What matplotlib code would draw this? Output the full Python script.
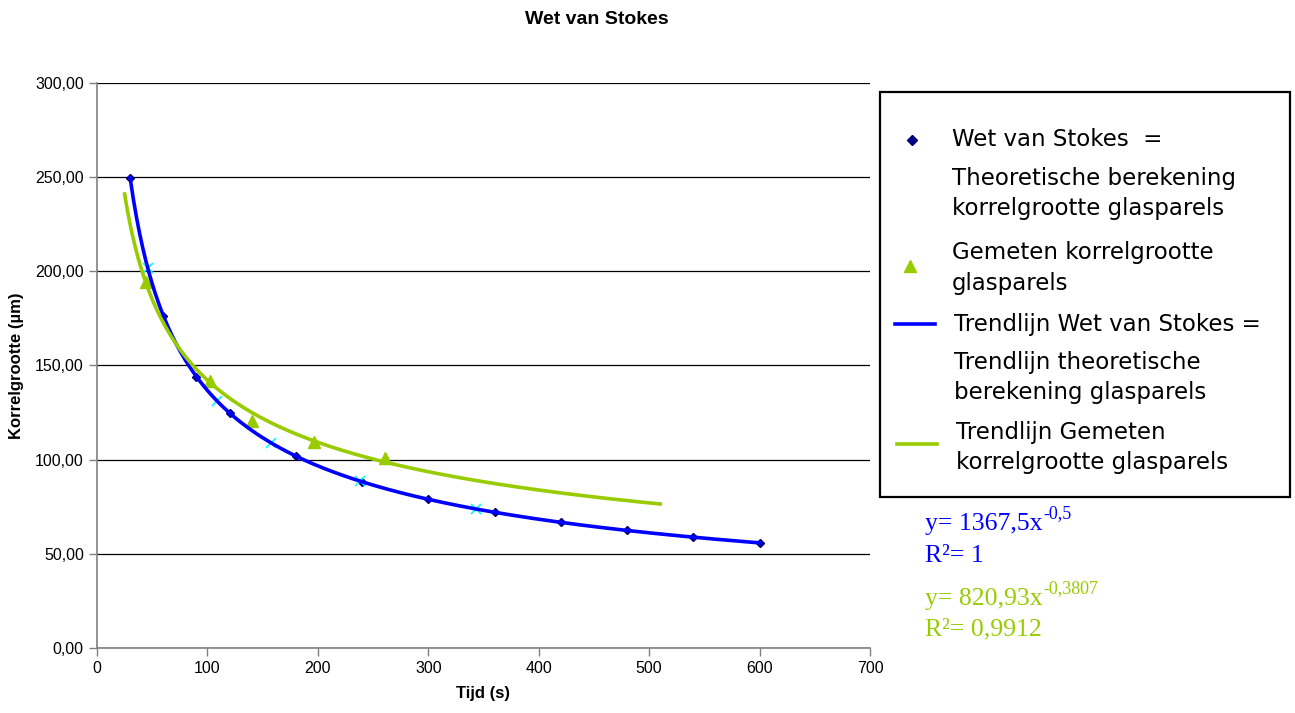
import matplotlib
matplotlib.use("Agg")
import matplotlib.pyplot as plt
import numpy as np
from matplotlib.lines import Line2D
from matplotlib.patches import Rectangle
from matplotlib.ticker import FuncFormatter

plt.rcParams["font.family"] = ["Liberation Sans", "DejaVu Sans"]

# theoretical grain size (Stokes' law) per settling time
stokes_time = [30, 60, 90, 120, 180, 240, 300, 360, 420, 480, 540, 600]
stokes_size = [249.7, 176.5, 144.1, 124.8, 101.9, 88.3, 79.0, 72.1, 66.7, 62.4, 58.8, 55.8]

# measured glass bead sizes
measured_time = [44.5, 102, 140, 196.5, 261]
measured_size = [194.4, 141.8, 120.5, 109.4, 100.9]

# theoretical size at the measured times
check_time = [46, 109, 158, 238, 343]
check_size = [202.0, 131.0, 109.0, 88.6, 74.0]

# power trendlines y = a * x^b
stokes_coef, stokes_exp, stokes_r2 = 1367.5, -0.5, "1"
stokes_range = (30, 600)
measured_coef, measured_exp, measured_r2 = 820.93, -0.3807, "0,9912"
measured_range = (25, 510)

x_ticks = [0, 100, 200, 300, 400, 500, 600, 700]
y_ticks = [0, 50, 100, 150, 200, 250, 300]

BLUE = "#0000FF"
NAVY = "#000080"
GREEN = "#99CC00"
CYAN = "#00FFFF"
W, H = 1295, 713

fig = plt.figure(figsize=(W / 100, H / 100), dpi=100)
ax = fig.add_axes([97 / W, 1 - 648 / H, (870 - 97) / W, (648 - 83) / H])

ax.plot(stokes_time, stokes_size, ls="none", marker="D", ms=4, color=NAVY, zorder=3)
ax.plot(check_time, check_size, ls="none", marker="x", ms=7, mew=1.2, color=CYAN, zorder=3)
ax.plot(measured_time, measured_size, ls="none", marker="^", ms=8, color=GREEN, zorder=3)

xs = np.linspace(*stokes_range, 400)
ax.plot(xs, stokes_coef * xs ** stokes_exp, color=BLUE, lw=2.6, zorder=4)
xm = np.linspace(*measured_range, 400)
ax.plot(xm, measured_coef * xm ** measured_exp, color=GREEN, lw=2.6, zorder=4)

ax.set_xlim(0, 700)
ax.set_ylim(0, 300)
ax.set_xticks(x_ticks)
ax.set_yticks(y_ticks)
ax.yaxis.set_major_formatter(FuncFormatter(lambda v, p: f"{v:.2f}".replace(".", ",")))
ax.tick_params(labelsize=11.5, length=6, width=1, color="#808080", direction="out")
ax.grid(axis="y", color="black", lw=0.9)
ax.set_axisbelow(True)
for side in ("top", "right"):
    ax.spines[side].set_visible(False)
for side in ("left", "bottom"):
    ax.spines[side].set_color("#808080")
    ax.spines[side].set_linewidth(1.2)

ax.set_xlabel("Tijd (s)", fontsize=12, fontweight="bold", labelpad=7)
ax.set_ylabel("Korrelgrootte (µm)", fontsize=12, fontweight="bold", labelpad=8)
fig.text(597 / W, 1 - 20 / H, "Wet van Stokes", ha="center", va="center",
         fontsize=14, fontweight="bold")


# legend box drawn by hand so each handle sits on its own text line
def fx(px):
    return px / W


def fy(py):
    return 1 - py / H


fig.add_artist(Rectangle((fx(880), fy(497)), fx(1290) - fx(880), fy(92) - fy(497),
                         transform=fig.transFigure, fill=False, ec="black", lw=1.6))
fig.add_artist(Line2D([fx(912)], [fy(140)], marker="D", ms=5, color=NAVY,
                      transform=fig.transFigure))
fig.add_artist(Line2D([fx(910)], [fy(266)], marker="^", ms=9, color=GREEN,
                      transform=fig.transFigure))
fig.add_artist(Line2D([fx(895), fx(935)], [fy(324), fy(324)], lw=2.6, color=BLUE,
                      transform=fig.transFigure))
fig.add_artist(Line2D([fx(897), fx(937)], [fy(444), fy(444)], lw=2.6, color=GREEN,
                      transform=fig.transFigure))

legend_lines = [
    (952, 140, "Wet van Stokes  ="),
    (952, 178, "Theoretische berekening"),
    (952, 208, "korrelgrootte glasparels"),
    (952, 252, "Gemeten korrelgrootte"),
    (952, 283, "glasparels"),
    (954, 325, "Trendlijn Wet van Stokes ="),
    (954, 362, "Trendlijn theoretische"),
    (954, 393, "berekening glasparels"),
    (956, 432, "Trendlijn Gemeten"),
    (956, 463, "korrelgrootte glasparels"),
]
for px, py, s in legend_lines:
    fig.text(fx(px), fy(py), s, ha="left", va="center", fontsize=16.5,
             family=["DejaVu Sans"])

# trendline equations
serif = ["Liberation Serif", "DejaVu Serif"]
equations = [
    (925, 524, f"y= {stokes_coef:.1f}x".replace(".", ","), f"{stokes_exp:.1f}".replace(".", ","), BLUE),
    (925, 599, f"y= {measured_coef:.2f}x".replace(".", ","), f"{measured_exp:.4f}".replace(".", ","), GREEN),
]
for px, py, base, sup, col in equations:
    t = fig.text(fx(px), fy(py), base, ha="left", va="center", fontsize=18.5,
                 family=serif, color=col)
    ax.annotate(sup, xy=(1.0, 0.0), xycoords=t, xytext=(0.5, 12.5),
                textcoords="offset points", ha="left", va="baseline",
                fontsize=13, family=serif, color=col, annotation_clip=False)
fig.text(fx(925), fy(556), f"R²= {stokes_r2}", ha="left", va="center",
         fontsize=18.5, family=serif, color=BLUE)
fig.text(fx(925), fy(629), f"R²= {measured_r2}", ha="left", va="center",
         fontsize=18.5, family=serif, color=GREEN)

fig.savefig("out.png", dpi=100)
